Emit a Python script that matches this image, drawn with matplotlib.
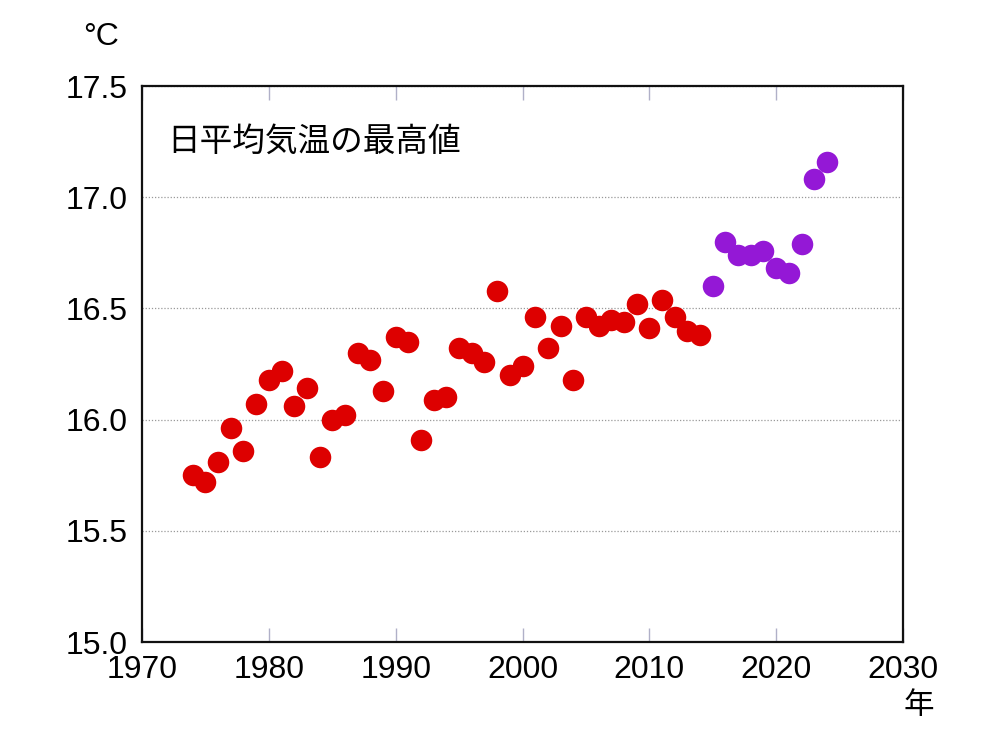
import matplotlib
matplotlib.use("Agg")
import matplotlib.pyplot as plt

# 年ごとの日平均気温の最高値 (°C)
years_old = list(range(1974, 2015))
temps_old = [15.75, 15.72, 15.81, 15.96, 15.86, 16.07, 16.18, 16.22, 16.06, 16.14,
             15.83, 16.00, 16.02, 16.30, 16.27, 16.13, 16.37, 16.35, 15.91, 16.09,
             16.10, 16.32, 16.30, 16.26, 16.58, 16.20, 16.24, 16.46, 16.32, 16.42,
             16.18, 16.46, 16.42, 16.45, 16.44, 16.52, 16.41, 16.54, 16.46, 16.40,
             16.38]
years_new = list(range(2015, 2025))
temps_new = [16.60, 16.80, 16.74, 16.74, 16.76, 16.68, 16.66, 16.79, 17.08, 17.16]

xticks = [1970, 1980, 1990, 2000, 2010, 2020, 2030]
yticks = [15.0, 15.5, 16.0, 16.5, 17.0, 17.5]

num_font = ["Liberation Sans", "DejaVu Sans"]
jp_font = ["Noto Sans CJK JP", "DejaVu Sans"]

fig = plt.figure(figsize=(9.86, 7.43), dpi=100)
ax = fig.add_axes([142 / 986, 1 - 642 / 743, (903 - 142) / 986, (642 - 86) / 743])

ax.plot(years_old, temps_old, "o", color="#dd0000", markersize=15.5, markeredgewidth=0, zorder=3)
ax.plot(years_new, temps_new, "o", color="#9418d6", markersize=15.5, markeredgewidth=0, zorder=3)

ax.set_xlim(1970, 2030)
ax.set_ylim(15.0, 17.5)
ax.set_xticks(xticks)
ax.set_yticks(yticks)
ax.set_xticklabels([str(x) for x in xticks], family=num_font, fontsize=23)
ax.set_yticklabels([f"{y:.1f}" for y in yticks], family=num_font, fontsize=23)

ax.yaxis.grid(True, linestyle=(0, (1, 1.5)), color="#999999", linewidth=0.9)
ax.tick_params(axis="x", direction="in", length=10, width=1, color="#b0b0c8",
               top=True, pad=9)
ax.tick_params(axis="y", length=0, pad=10)
for s in ax.spines.values():
    s.set_linewidth(1.6)
    s.set_color("#111111")

ax.text(0.033, 0.9, "日平均気温の最高値", transform=ax.transAxes, family=jp_font,
        fontsize=23.5, ha="left", va="center")
fig.text(101 / 986, 1 - 37 / 743, "°C", family=num_font, fontsize=23, ha="center", va="center")
fig.text(919 / 986, 1 - 705 / 743, "年", family=jp_font, fontsize=22, ha="center", va="center")

fig.savefig("out.png", dpi=100)
